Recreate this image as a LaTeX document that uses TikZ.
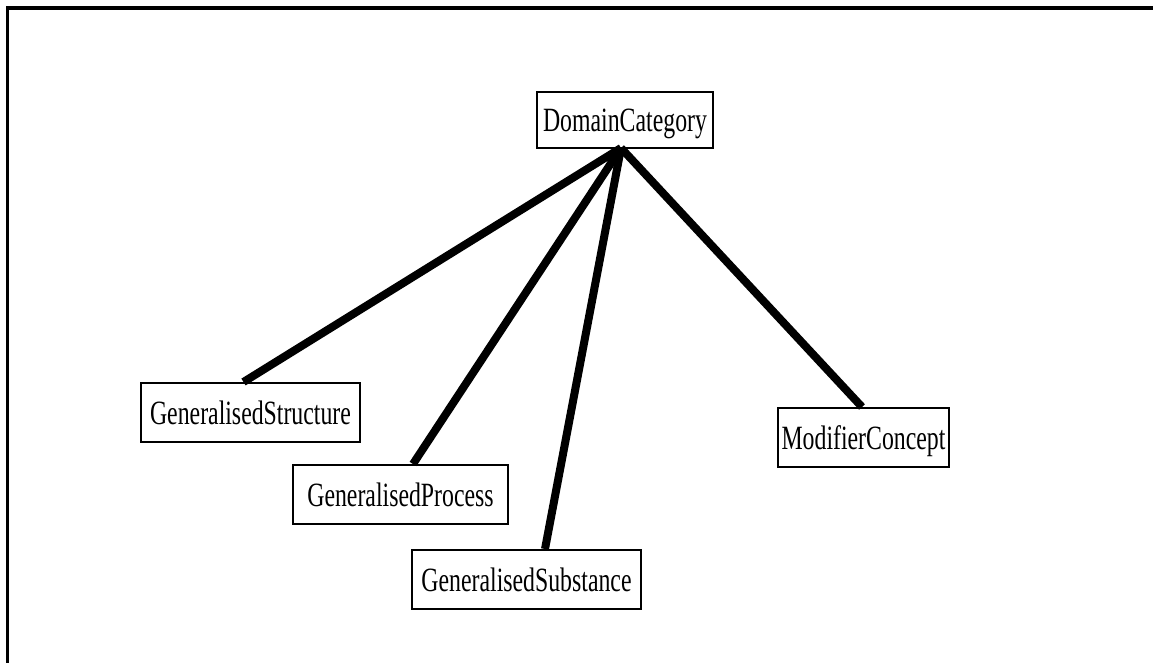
\documentclass[tikz,border=0pt]{standalone}
\usepackage{fontspec}
\newfontfamily\labfont[FakeStretch=0.7]{Liberation Serif}
\begin{document}
\begin{tikzpicture}[x=1pt,y=-1pt,
  box/.style={draw,line width=2pt,fill=white,inner sep=0pt,minimum height=59pt,
    text depth=0pt,font=\labfont\fontsize{34}{34}\selectfont},
  link/.style={line width=8pt}]
\useasboundingbox (0,0) rectangle (1153,663);
\draw[line width=3.5pt] (1153,8) -- (7.5,8) -- (7.5,663);
\node[box,minimum width=176pt,minimum height=56pt] (dc) at (625,120) {DomainCategory};
\node[box,minimum width=219pt] (gs) at (250.5,412.5) {GeneralisedStructure};
\node[box,minimum width=215pt] (gp) at (400.5,494.5) {GeneralisedProcess};
\node[box,minimum width=229pt] (gsub) at (526.5,579.5) {GeneralisedSubstance};
\node[box,minimum width=171pt] (mc) at (863.5,437.5) {ModifierConcept};
\coordinate (hub) at ([xshift=-4pt,yshift=1pt]dc.south);
\draw[link] (hub) -- ([xshift=-7pt]gs.north);
\draw[link] (hub) -- ([xshift=12.5pt]gp.north);
\draw[link] (hub) -- ([xshift=18.5pt]gsub.north);
\draw[link] (hub) -- ([xshift=-1.5pt]mc.north);
\end{tikzpicture}
\end{document}
